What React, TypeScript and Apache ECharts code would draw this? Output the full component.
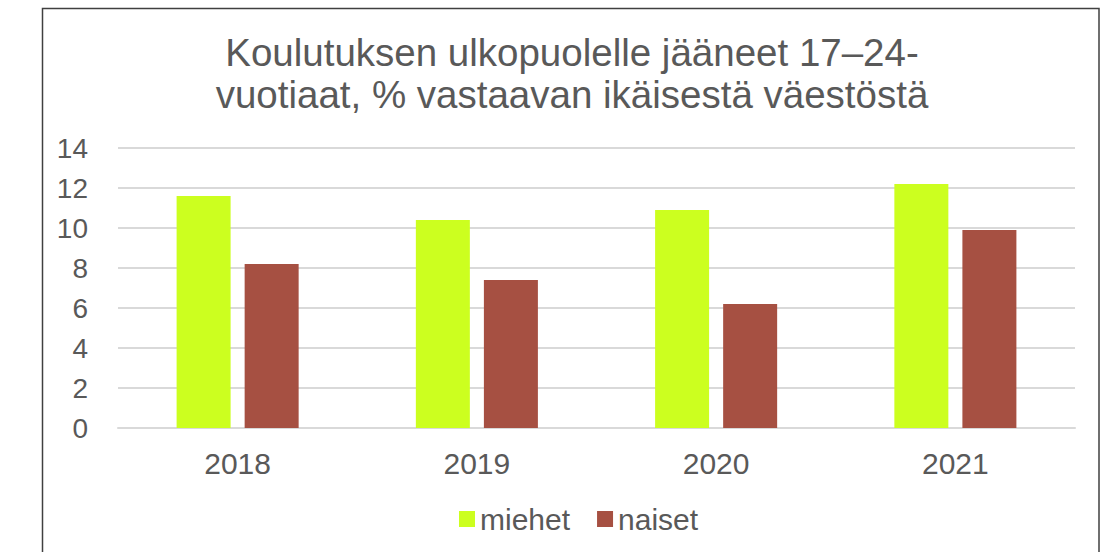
import React, { useEffect, useRef } from "react";
import * as echarts from "echarts";

const titleLines = ["Koulutuksen ulkopuolelle jääneet 17–24-", "vuotiaat, % vastaavan ikäisestä väestöstä"];
const categories = ["2018", "2019", "2020", "2021"];
const seriesNames = ["miehet", "naiset"];
const miehet = [11.6, 10.4, 10.9, 12.2];
const naiset = [8.2, 7.4, 6.2, 9.9];
const colors = ["#ccff1f", "#a65042"];

const FONT = "'Liberation Sans', Arial, sans-serif";
const TEXT = "#595959";

export default function App() {
  const ref = useRef<HTMLDivElement>(null);
  useEffect(() => {
    if (!ref.current) return;
    const chart = echarts.init(ref.current, null, { renderer: "svg" });
    chart.setOption({
      animation: false,
      backgroundColor: "#ffffff",
      textStyle: { fontFamily: FONT, color: TEXT },
      title: {
        text: titleLines.join("\n"),
        left: 567,
        top: 26,
        textAlign: "center",
        textStyle: { fontFamily: FONT, fontSize: 38.5, lineHeight: 42, fontWeight: "normal", color: TEXT },
      },
      graphic: [
        {
          type: "rect",
          shape: { x: 42.5, y: 8.5, width: 1056.5, height: 600 },
          style: { fill: "none", stroke: "#404040", lineWidth: 1.5 },
          silent: true,
        },
      ],
      legend: {
        data: seriesNames,
        left: 454,
        top: 499,
        itemWidth: 16,
        itemHeight: 16,
        itemGap: 27,
        icon: "rect",
        textStyle: { fontFamily: FONT, fontSize: 30, color: TEXT },
      },
      grid: { left: 118, right: 36, top: 148, bottom: 124, containLabel: false },
      xAxis: {
        type: "category",
        data: categories,
        axisLine: { show: true, lineStyle: { color: "#d9d9d9", width: 2 } },
        axisTick: { show: false },
        axisLabel: { fontFamily: FONT, fontSize: 30, color: TEXT, margin: 20 },
      },
      yAxis: {
        type: "value",
        min: 0,
        max: 14,
        interval: 2,
        axisLine: { show: false },
        axisTick: { show: false },
        splitLine: { lineStyle: { color: "#d9d9d9", width: 2 } },
        axisLabel: { fontFamily: FONT, fontSize: 28, color: TEXT, margin: 30 },
      },
      series: [
        { name: seriesNames[0], type: "bar", data: miehet, itemStyle: { color: colors[0] }, barWidth: 54, barGap: "26%" },
        { name: seriesNames[1], type: "bar", data: naiset, itemStyle: { color: colors[1] }, barWidth: 54, barGap: "26%" },
      ],
    });
    return () => chart.dispose();
  }, []);
  return (
    <div
      ref={ref}
      style={{ position: "absolute", left: 0, top: 0, width: 1111, height: 552 }}
    />
  );
}
